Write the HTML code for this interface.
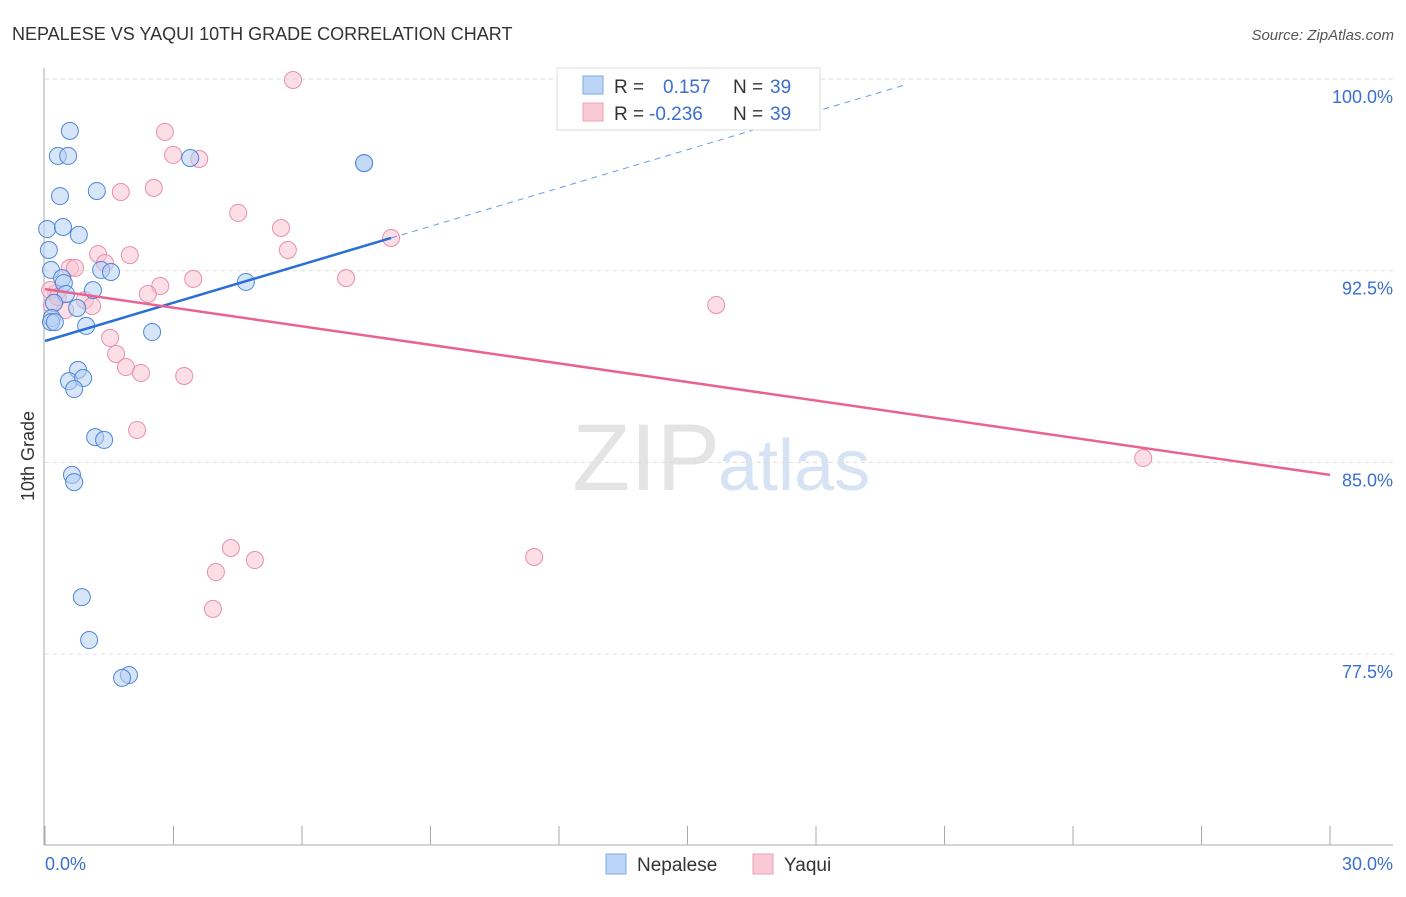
<!DOCTYPE html>
<html><head><meta charset="utf-8"><style>
body{margin:0;background:#fff;font-family:"Liberation Sans",sans-serif;}
svg text{font-family:"Liberation Sans",sans-serif;}
</style></head><body>
<svg id="c" width="1406" height="892">
<text x="12" y="40" font-size="18" fill="#333">NEPALESE VS YAQUI 10TH GRADE CORRELATION CHART</text>
<text x="1394" y="40" font-size="15" fill="#555" font-style="italic" text-anchor="end">Source: ZipAtlas.com</text>
<text x="720" y="490" font-size="95" fill="#e4e4e4" text-anchor="end" font-family="Liberation Serif">ZIP</text>
<text x="718" y="490" font-size="72" fill="#d6e3f5">atlas</text>
<text transform="translate(34,456) rotate(-90)" font-size="18" fill="#333" text-anchor="middle">10th Grade</text>
<g id="grid"></g><g id="marks"></g>
<g>
<rect x="557" y="68" width="263" height="62" fill="#fff" stroke="#ddd"/>
<rect x="583" y="76" width="20" height="18" fill="#bcd4f6" stroke="#7fa8e6"/>
<rect x="583" y="103" width="20" height="18" fill="#f9c9d6" stroke="#eea0b6"/>
<text x="614" y="93" font-size="19" fill="#333">R =</text><text x="663" y="93" font-size="19" fill="#3a6fd0">0.157</text>
<text x="733" y="93" font-size="19" fill="#333">N =</text><text x="770" y="93" font-size="19" fill="#3a6fd0">39</text>
<text x="614" y="120" font-size="19" fill="#333">R =</text><text x="649" y="120" font-size="19" fill="#3a6fd0">-0.236</text>
<text x="733" y="120" font-size="19" fill="#333">N =</text><text x="770" y="120" font-size="19" fill="#3a6fd0">39</text>
</g>
<g>
<rect x="606" y="854" width="20" height="20" fill="#bcd4f6" stroke="#7fa8e6"/>
<text x="637" y="871" font-size="19" fill="#333">Nepalese</text>
<rect x="753" y="854" width="20" height="20" fill="#f9c9d6" stroke="#eea0b6"/>
<text x="784" y="871" font-size="19" fill="#333">Yaqui</text>
</g>
</svg>
<script>
const yTicks=[100,92.5,85,77.5];
const yTickLabels=["100.0%","92.5%","85.0%","77.5%"];
const xTickLabels=["0.0%","30.0%"];
const blueX=[0.58,0.30,0.54,3.39,7.45,7.45,1.21,0.35,0.05,0.42,0.79,0.09,0.14,1.31,1.54,0.40,0.44,4.69,1.12,0.49,0.21,0.75,0.16,0.14,0.23,0.96,2.50,0.77,0.56,0.89,0.68,1.17,1.38,0.63,0.68,0.86,1.03,1.96,1.80];
const blueY=[97.97,96.99,96.99,96.91,96.71,96.71,95.62,95.42,94.13,94.21,93.90,93.31,92.53,92.53,92.45,92.21,92.02,92.06,91.74,91.59,91.24,91.04,90.65,90.49,90.49,90.34,90.10,88.62,88.18,88.30,87.87,85.99,85.88,84.51,84.23,79.73,78.05,76.68,76.57];
const pinkX=[5.79,2.80,2.99,3.60,1.77,2.54,4.51,5.51,5.67,8.08,1.24,1.98,1.40,0.58,0.70,3.46,7.03,2.69,2.40,0.26,0.16,0.93,1.10,0.47,15.67,1.52,1.66,1.89,2.24,3.25,2.15,25.64,4.34,4.90,3.99,11.42,3.92,0.12,0.30];
const pinkY=[99.96,97.93,97.03,96.87,95.58,95.74,94.76,94.17,93.31,93.78,93.15,93.11,92.80,92.61,92.61,92.18,92.21,91.90,91.59,91.63,91.16,91.35,91.12,90.96,91.16,89.87,89.24,88.73,88.50,88.38,86.27,85.17,81.65,81.18,80.71,81.30,79.27,91.74,91.47];
const blueLine=[0,89.75,8.08,93.78,20.08,99.77];
const pinkLine=[0,91.78,30,84.51];
const NS="http://www.w3.org/2000/svg";
const sx=v=>45+v/30*1285, sy=v=>79+(100-v)*25.56;
function mk(t,a,p){const e=document.createElementNS(NS,t);for(const k in a)e.setAttribute(k,a[k]);p.appendChild(e);return e;}
const g=document.getElementById('grid'),m=document.getElementById('marks');
yTicks.forEach((t,i)=>{
 const l=mk('line',{x1:45,x2:1393,y1:sy(t),y2:sy(t),stroke:'#ddd','stroke-dasharray':'4,4'},g);
 
 
 const tx=mk('text',{x:1393,y:sy(t)+24,'font-size':18,fill:'#3a6fd0','text-anchor':'end'},g);
 tx.textContent=yTickLabels[i];
 
 
});
mk('line',{x1:44,x2:44,y1:68,y2:845,stroke:'#aaa'},g);
mk('line',{x1:44,x2:1393,y1:845,y2:845,stroke:'#aaa'},g);
for(let i=0;i<=10;i++){const t=mk('line',{x1:sx(i*3),x2:sx(i*3),y1:826,y2:845,stroke:'#aaa'},g);
 
 }
[[0,'start',45],[1,'end',1393]].forEach(([i,a,x])=>{const t=mk('text',{x:x,y:870,'font-size':18,fill:'#3a6fd0','text-anchor':a},g);t.textContent=xTickLabels[i];
 
 });
function dots(X,Y,f,s,n){X.forEach((x,i)=>{const c=mk('circle',{cx:sx(x),cy:sy(Y[i]),r:8.5,fill:f,'fill-opacity':0.55,stroke:s,'stroke-width':1},m);
 
 });}
dots(pinkX,pinkY,'#f9c3d2','#e98fab','yaqui-point');
dots(blueX,blueY,'#b5cff3','#4f86d9','nepalese-point');
let l=mk('line',{x1:sx(blueLine[0]),y1:sy(blueLine[1]),x2:sx(blueLine[2]),y2:sy(blueLine[3]),stroke:'#2a6fd6','stroke-width':2.5},m);


l=mk('line',{x1:sx(blueLine[2]),y1:sy(blueLine[3]),x2:sx(blueLine[4]),y2:sy(blueLine[5]),stroke:'#6f9be0','stroke-width':1,'stroke-dasharray':'6,5'},m);


l=mk('line',{x1:sx(pinkLine[0]),y1:sy(pinkLine[1]),x2:sx(pinkLine[2]),y2:sy(pinkLine[3]),stroke:'#e8648f','stroke-width':2.5},m);


</script>
</body></html>
